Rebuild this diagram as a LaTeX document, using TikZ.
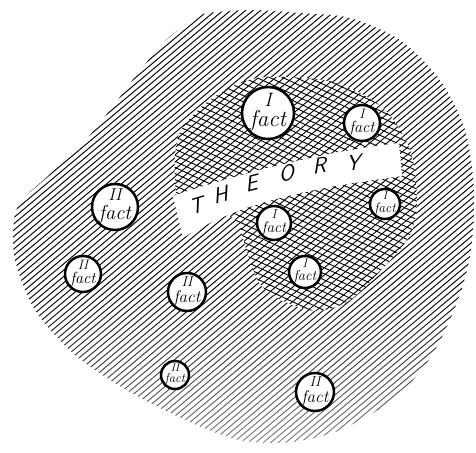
\documentclass[tikz,border=0pt]{standalone}
\usepackage{tikz}
\usetikzlibrary{fadings}
\tikzfading[name=fadebottom,top color=transparent!100,bottom color=transparent!45]
\def\corepts{(178,200) (177,140) (200,108) (233,86) (267,77) (333,82) (383,108) (410,150)
  (417,200) (410,235) (383,268) (350,300) (317,311) (283,301) (260,284) (247,252) (236,220) (210,212)}

\begin{document}
\begin{tikzpicture}[x=1pt,y=-1pt,
  hatch/.style={line width=0.95pt,line cap=round},
  gridline/.style={line width=0.9pt},
  fact/.style={circle,draw,line width=2.5pt,fill=white,inner sep=0pt},
  letter/.style={font=\sffamily\fontsize{22}{22}\selectfont,inner sep=0pt}]
  \useasboundingbox (0,0) rectangle (476,452);
  % outer field of facts
  \begin{scope}
    \clip plot[smooth cycle] coordinates {(203,14) (250,10) (300,13) (350,18) (400,40) (440,80)
      (465,130) (474,190) (471,250) (458,300) (432,355) (395,398) (340,430) (290,442) (240,440)
      (190,422) (130,392) (75,355) (35,310) (15,260) (14,220) (22,200) (47,177) (83,143)
      (110,110) (138,73) (163,43) (185,25)};
    \foreach \i in {-560,-552.5,...,480}
      \draw[hatch] (\i,460) -- ++(548,-460);
    % cross-hatched core
    \fill[white] plot[smooth cycle] coordinates {\corepts};
    \begin{scope}
      \clip plot[smooth cycle] coordinates {\corepts};
      \foreach \i in {-240,-231.4,...,430}
        \draw[gridline] (\i,330) -- ++(393,-330);
      \foreach \j in {-70,-63.9,...,330}
        \draw[gridline] (150,\j) -- ++(280,131);
    \end{scope}
    \fill[white,path fading=fadebottom] (0,290) rectangle (476,452);
  \end{scope}
  % white band
  \fill[white] (173,196) .. controls (235,175) and (320,152) .. (399,143) -- (402,176)
    .. controls (330,186) and (245,198) .. (183,238) -- cycle;
  \foreach \c/\x/\y/\a in {T/198/205/17,H/222/194/16,E/253/183/14,O/288/173/12,R/321/165/10,Y/355/163/8}
    \node[letter,rotate=\a,xslant=0.35] (th\c) at (\x,\y) {\c};
  % facts
  \foreach \n/\x/\y/\r/\t in {f1/268/113/27/I,f2/362/123/19/I,f3/385/204/16/I,f4/274/223/18/I,
    f5/305/272/17/I,f6/115/207/24/II,f7/83/274/19/II,f8/187/292/20/II,f9/175/375/15/II,f10/315/392/20/II}{
    \pgfmathsetmacro{\fs}{0.85*\r}
    \pgfmathsetmacro{\ns}{0.72*\r}
    \node[fact,minimum size=2*\r-2] (\n) at (\x,\y) {};
    \node[inner sep=0pt,font=\itshape\fontsize{\fs}{\fs}\selectfont] (\n-t) at ([yshift=-0.3*\r]\n.center) {fact};
    \node[inner sep=0pt,font=\itshape\fontsize{\ns}{\ns}\selectfont] (\n-n) at ([yshift=0.5*\r]\n.center) {\t};
  }
\end{tikzpicture}
\end{document}
